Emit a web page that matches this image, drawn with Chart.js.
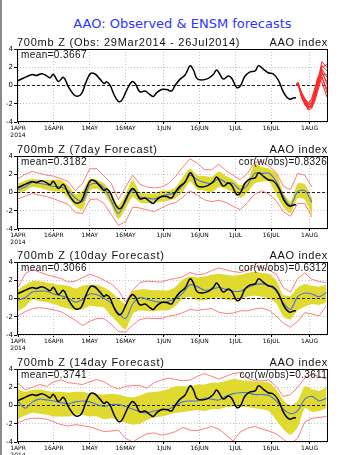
<!DOCTYPE html>
<html><head><meta charset="utf-8">
<script src="https://cdn.jsdelivr.net/npm/chart.js@4.4.1/dist/chart.umd.min.js"></script>
<style>
html,body{margin:0;padding:0;background:#fff;width:343px;height:455px;overflow:hidden;position:relative;}
#edge{position:absolute;left:0;top:0;width:2px;height:455px;background:#8a8a8a;}
.t{position:absolute;white-space:nowrap;font-family:"Liberation Sans",Arial,sans-serif;color:#111;}
canvas{position:absolute;left:0;}
</style></head><body>
<div id="edge"></div>
<script>
// ---------- data ----------
const chartTitle = "AAO: Observed & ENSM forecasts";
const subtitles = ["700mb Z (Obs: 29Mar2014 - 26Jul2014)", "700mb Z (7day Forecast)", "700mb Z (10day Forecast)", "700mb Z (14day Forecast)"];
const rightLabel = "AAO index";
const meanLabels = ["mean=0.3667", "mean=0.3182", "mean=0.3066", "mean=0.3741"];
const corLabels = ["", "cor(w/obs)=0.8326", "cor(w/obs)=0.6312", "cor(w/obs)=0.3611"];

// x ticks: days since 1 Apr 2014
const tickDays = [0, 15, 30, 45, 61, 76, 91, 106, 122];
const tickLabels = [["1APR", "2014"], "16APR", "1MAY", "16MAY", "1JUN", "16JUN", "1JUL", "16JUL", "1AUG"];
const yTicks = [-4, -3, -2, -1, 0, 1, 2, 3, 4];

// observed AAO index
const obsDays = [-0.4, 2.2, 5.7, 7.8, 9.9, 12.0, 13.4, 14.8, 16.9, 19.0, 21.1, 23.2, 24.8, 26.6, 28.5, 30.4, 32.2, 34.3, 36.0, 37.1, 38.5, 40.3, 42.0, 43.4, 45.5, 47.6, 49.0, 51.0, 53.1, 55.2, 56.6, 58.0, 60.1, 62.2, 64.3, 65.7, 67.8, 69.9, 72.0, 73.4, 74.8, 76.8, 79.6, 81.7, 83.1, 84.5, 85.9, 88.0, 89.4, 91.5, 92.9, 95.0, 97.1, 99.2, 100.6, 102.6, 104.7, 106.8, 108.9, 111.0, 112.4, 113.8, 115.2, 116.3];
const obsVals = [0.48, 0.8, 1.19, 1.1, 1.3, 1.05, 0.85, 1.22, 0.44, 0.89, -0.15, -0.96, -1.19, -0.89, 0.4, 1.33, 1.26, 0.7, 0.22, 0.4, 0.04, -1.07, -1.74, -1.63, -0.5, 0.4, 0.22, -0.7, -0.6, -1.0, -1.2, -0.8, -0.44, -0.45, -0.6, 0.0, 0.7, 1.15, 2.15, 1.7, 0.78, 0.6, 0.78, 1.2, 1.7, 1.2, 0.7, 1.04, 0.8, -0.22, -0.1, 1.04, 1.5, 1.6, 2.15, 1.8, 1.4, 1.26, 0.6, -0.7, -1.26, -1.5, -1.37, -1.33];

// ENSM members (panel 1)
const memberDays = [116.3, 117.2, 118.7, 120.2, 121.5, 122.9, 124.2, 125.4, 127.1, 129.3];
const member01 = [0.1, 0.3, -1.0, -1.9, -2.4, -2.2, -1.2, 0.3, 2.6, 2.0];
const member02 = [0.0, 0.2, -0.9, -1.6, -2.1, -1.9, -0.8, 0.6, 2.2, 1.6];
const member03 = [0.1, 0.2, -1.2, -2.1, -2.7, -2.5, -1.5, -0.3, 1.8, 0.9];
const member04 = [0.0, 0.1, -0.8, -1.5, -1.9, -1.6, -0.5, 0.9, 1.4, 0.4];
const member05 = [0.1, 0.3, -1.1, -1.8, -2.3, -2.4, -1.7, -0.6, 0.9, -0.4];
const member06 = [0.0, 0.2, -1.3, -2.0, -2.5, -2.0, -1.0, 0.1, 1.2, 1.2];
const member07 = [0.1, 0.3, -1.0, -1.7, -2.0, -1.4, -0.3, 0.7, 0.4, -1.3];
const member08 = [0.0, 0.2, -0.9, -1.9, -2.6, -2.1, -0.9, 0.4, 2.0, 2.3];
const member09 = [0.1, 0.1, -1.4, -2.2, -2.2, -1.8, -1.3, -0.2, 1.0, -0.8];
const member10 = [0.0, 0.3, -1.1, -1.6, -2.4, -2.3, -1.1, 0.2, 1.6, 0.1];
const members = [member01, member02, member03, member04, member05, member06, member07, member08, member09, member10];

// forecast verification days (every 3 days)
const fcDays = [0, 3, 6, 9, 12, 15, 18, 21, 24, 27, 30, 33, 36, 39, 42, 45, 48, 51, 54, 57, 60, 63, 66, 69, 72, 75, 78, 81, 84, 87, 90, 93, 96, 99, 102, 105, 108, 111, 114, 117, 120, 123, 126, 129];

// 7-day forecast
const p2Mean = [0.3, 0.6, 1.1, 1.0, 0.85, 0.65, 0.6, 0.2, -0.6, -1.0, 0.8, 1.0, 0.5, -0.9, -2.3, -1.0, 0.3, -0.5, -0.6, -0.7, -0.4, -0.2, 0.0, 0.8, 1.9, 1.4, 1.1, 1.0, 1.5, 1.1, 1.0, 0.3, 0.8, 2.1, 2.1, 2.1, 1.2, -0.4, -1.4, 0.1, 0.2, -1.1];
const p2BandHi = [1.0, 1.3, 1.5, 1.4, 1.35, 1.4, 1.35, 0.8, -0.2, 0.2, 1.5, 1.4, 1.0, 0.0, -1.4, -0.2, 1.4, 0.0, -0.1, -0.1, 0.2, 0.2, 0.6, 1.7, 2.6, 1.9, 1.8, 1.7, 2.3, 1.8, 1.4, 0.8, 1.3, 3.1, 2.8, 2.6, 2.1, 0.0, -1.0, 1.0, 0.9, -0.6];
const p2BandLo = [-0.1, 0.2, 0.6, 0.5, 0.3, 0.1, 0.05, -0.6, -1.5, -1.9, 0.2, 0.4, -0.1, -1.4, -2.9, -1.8, -0.5, -1.1, -1.2, -1.1, -1.0, -0.9, -0.6, 0.1, 1.2, 0.3, 0.2, 0.0, 0.6, 0.4, 0.0, -0.6, 0.0, 1.0, 1.2, 1.2, -0.2, -1.6, -2.3, -0.6, -0.8, -2.5];
const p2RedHi = [1.5, 2.0, 2.3, 2.1, 1.9, 1.8, 1.5, 1.2, 0.2, 1.0, 2.6, 2.6, 1.8, 1.0, -0.8, 0.6, 1.9, 0.9, 0.6, 0.5, 0.6, 1.0, 1.8, 2.8, 3.7, 3.2, 2.5, 2.5, 3.1, 2.4, 1.9, 1.4, 2.1, 3.3, 3.4, 2.9, 2.2, 0.7, 0.3, 2.1, 1.9, 0.6];
const p2RedLo = [-0.7, -0.4, -0.1, -0.3, -0.45, -0.7, -1.0, -1.3, -2.2, -2.3, -0.8, -0.7, -1.2, -2.4, -3.6, -3.2, -1.6, -1.7, -1.9, -2.1, -1.7, -1.3, -1.1, -0.5, 0.2, -0.3, -0.8, -1.0, -0.85, -1.1, -1.5, -1.9, -1.1, -0.2, 0.2, -0.2, -0.9, -2.1, -2.6, -1.2, -1.2, -2.7];

// 10-day forecast
const p3Mean = [-0.2, 0.1, 0.7, 0.8, 0.8, 0.5, 0.3, 0.05, -0.4, -0.1, 0.5, 0.4, 0.0, -0.5, -1.6, -2.2, -0.6, 0.1, -0.1, -0.3, -0.4, -0.3, 0.0, 0.6, 1.5, 1.3, 0.9, 1.0, 1.2, 1.0, 0.8, 0.8, 1.2, 1.5, 1.6, 1.4, 0.8, -0.5, -1.2, 0.2, 0.6, 0.5, 0.2, 0.65];
const p3BandHi = [0.9, 1.5, 1.9, 1.9, 1.75, 1.6, 1.5, 1.4, 1.1, 1.4, 1.5, 1.5, 1.2, 0.7, 0.0, -0.6, 0.8, 1.0, 1.0, 0.9, 0.9, 0.9, 1.3, 2.1, 2.4, 2.3, 2.4, 2.6, 2.7, 2.6, 2.5, 2.6, 2.8, 2.9, 2.8, 2.7, 2.0, 0.4, 0.3, 1.2, 1.6, 1.4, 1.3, 1.5];
const p3BandLo = [-1.35, -0.9, -0.1, -0.3, -0.4, -0.6, -0.9, -1.1, -1.3, -1.2, -0.8, -0.9, -1.0, -1.9, -2.7, -3.4, -1.7, -1.3, -1.4, -1.4, -1.3, -1.3, -0.8, 0.0, 0.2, -0.2, -0.2, 0.0, 0.1, -0.1, -0.2, 0.0, 0.2, 0.3, 0.2, 0.0, -0.5, -2.0, -2.3, -1.3, -0.9, -0.6, -0.7, -0.4];
const p3RedHi = [1.2, 2.7, 3.2, 2.9, 2.6, 2.4, 2.2, 1.8, 1.9, 2.3, 2.65, 2.4, 2.0, 1.6, 0.9, -0.4, 0.9, 1.75, 1.9, 1.85, 1.8, 2.05, 2.2, 2.4, 2.85, 2.6, 2.7, 3.05, 3.35, 3.15, 2.95, 2.85, 3.1, 3.5, 3.4, 3.1, 2.7, 1.2, 0.7, 2.2, 2.8, 2.1, 1.85, 1.75];
const p3RedLo = [-1.9, -1.45, -1.1, -1.0, -1.1, -1.25, -1.45, -1.9, -2.4, -2.95, -2.5, -2.2, -2.2, -2.8, -3.6, -3.7, -2.9, -2.3, -2.15, -2.2, -2.2, -1.95, -1.8, -1.55, -1.2, -1.3, -1.2, -1.1, -1.5, -1.65, -1.6, -1.35, -1.35, -1.15, -1.05, -1.3, -1.9, -2.7, -3.15, -2.5, -1.55, -1.7, -1.9, -0.8];

// 14-day forecast
const p4Mean = [0.45, -0.3, 0.4, 0.7, 0.6, 0.5, 0.3, 0.2, 0.4, 0.5, 0.4, 0.1, -0.1, 0.1, 0.1, -0.1, -0.4, -0.7, -0.8, -0.6, -0.5, -0.4, 0.0, 0.4, 0.5, 0.5, 0.8, 0.7, 0.6, 1.0, 1.3, 1.4, 1.4, 1.2, 1.2, 1.1, 0.5, -0.4, -0.9, -0.6, 0.7, 1.0, 0.5, 0.8];
const p4BandHi = [1.75, 1.5, 1.7, 1.75, 1.6, 1.5, 1.5, 1.4, 1.5, 1.5, 1.3, 1.2, 1.2, 1.3, 1.2, 1.0, 0.9, 1.1, 1.4, 1.5, 1.6, 1.8, 2.1, 2.1, 2.1, 2.3, 2.3, 2.5, 2.5, 2.7, 2.9, 2.8, 2.7, 2.6, 2.6, 2.5, 1.8, 0.6, 0.0, 0.5, 2.1, 1.8, 1.6, 2.0];
const p4BandLo = [-1.5, -1.1, -0.8, -0.9, -1.0, -1.2, -1.2, -1.2, -1.0, -1.0, -1.2, -1.2, -1.5, -1.4, -1.6, -1.9, -2.1, -2.0, -1.6, -1.3, -1.2, -1.0, -0.8, -0.7, -0.6, -0.5, -0.6, -0.4, -0.4, -0.2, -0.1, -0.1, -0.2, -0.3, -0.4, -0.6, -1.6, -2.6, -3.2, -2.4, -0.3, -0.7, -0.6, -0.3];
const p4RedHi = [2.5, 1.7, 2.0, 2.3, 2.1, 2.6, 2.8, 2.5, 2.4, 2.3, 2.6, 2.84, 2.6, 2.1, 1.8, 2.1, 2.2, 2.2, 1.9, 2.5, 2.8, 3.0, 2.85, 2.7, 2.8, 3.2, 3.5, 3.2, 2.9, 3.2, 3.5, 3.6, 3.0, 2.7, 2.7, 2.8, 2.1, 1.0, 1.2, 2.0, 3.0, 3.4, 3.2, 2.9];
const p4RedLo = [-1.9, -1.55, -1.4, -1.4, -1.5, -1.8, -2.1, -2.25, -2.1, -2.2, -2.35, -2.6, -2.85, -2.8, -2.7, -3.6, -4.0, -3.5, -3.1, -3.0, -3.25, -3.1, -2.85, -2.4, -2.7, -2.75, -2.55, -2.3, -2.6, -3.2, -3.9, -2.9, -2.5, -2.3, -2.55, -2.8, -3.1, -3.7, -4.2, -3.6, -1.8, -1.4, -1.3, -1.2];

// ---------- layout / style ----------
const panelTops = [49, 156, 262, 369];
const PLOT_H = 73, PLOT_L = 17, PLOT_R = 328, PAD_T = 6, XAX_H = 22, PAD_R = 4;
const X_MIN = -0.42, X_MAX = 129.7;
const FONT = '"DejaVu Sans", sans-serif';
const YELLOW = '#e0da30', PINK = '#ff7a7a', BLUE = '#4d6fdc', RED = '#ff2525', GRID = '#c4c4c4';

function addText(txt, css) {
  const d = document.createElement('div');
  d.className = 't';
  d.textContent = txt;
  Object.assign(d.style, css);
  document.body.appendChild(d);
  return d;
}
addText(chartTitle, {left: '0px', width: '365px', textAlign: 'center', top: '15px', fontSize: '13px', lineHeight: '17px', color: '#2a36ff', fontFamily: FONT});

const pts = (days, vals) => vals.map((v, i) => ({x: days[i], y: v}));

const framePlugin = {
  id: 'frame',
  afterDatasetsDraw(c) {
    const a = c.chartArea, x = c.ctx;
    x.save(); x.strokeStyle = '#000'; x.lineWidth = 1;
    x.strokeRect(Math.round(a.left) + 0.5, Math.round(a.top) + 0.5, Math.round(a.right - a.left) - 1, Math.round(a.bottom - a.top) - 1);
    x.restore();
  }
};

function lineDS(data, color, width, tension, extra) {
  return Object.assign({data, borderColor: color, borderWidth: width, pointRadius: 0, fill: false, tension}, extra || {});
}

function makePanel(i, datasets) {
  const top = panelTops[i];
  const cv = document.createElement('canvas');
  const W = PLOT_R + PAD_R, H = PAD_T + PLOT_H + XAX_H;
  cv.width = W; cv.height = H;
  cv.style.width = W + 'px'; cv.style.height = H + 'px';
  cv.style.top = (top - PAD_T) + 'px';
  document.body.appendChild(cv);
  const zero = lineDS([{x: X_MIN, y: 0}, {x: X_MAX, y: 0}], '#222', 1, 0, {borderDash: [3, 2]});
  datasets.splice(datasets.length - (datasets.bandCount || 0), 0, zero);
  new Chart(cv, {
    type: 'line',
    data: {datasets},
    options: {
      animation: false, responsive: false, maintainAspectRatio: false, devicePixelRatio: 1,
      layout: {padding: {top: PAD_T, right: PAD_R, left: 0, bottom: 0}},
      plugins: {legend: {display: false}, tooltip: {enabled: false}, filler: {drawTime: 'beforeDatasetsDraw'}},
      scales: {
        x: {
          type: 'linear', min: X_MIN, max: X_MAX,
          afterBuildTicks(s) { s.ticks = tickDays.map(v => ({value: v})); },
          afterFit(s) { s.height = XAX_H; },
          ticks: {autoSkip: false, maxRotation: 0, minRotation: 0, padding: 1, color: '#000',
            font: {family: FONT, size: 6, lineHeight: 1.2},
            callback(v) { const k = tickDays.indexOf(v); return k >= 0 ? tickLabels[k] : ''; }},
          grid: {color: GRID, lineWidth: 1, drawTicks: true, tickLength: 2, tickColor: '#000'},
          border: {display: false, dash: [1, 2]}
        },
        y: {
          min: -4, max: 4,
          afterBuildTicks(s) { s.ticks = yTicks.map(v => ({value: v})); },
          afterFit(s) { s.width = PLOT_L; },
          ticks: {padding: 1, color: '#000', font: {family: FONT, size: 7}, callback: v => String(v)},
          grid: {color: GRID, lineWidth: 1, drawTicks: true, tickLength: 3, tickColor: '#000'},
          border: {display: false, dash: [1, 2]}
        }
      }
    },
    plugins: [framePlugin]
  });
  // texts
  addText(subtitles[i], {left: PLOT_L + 'px', top: (top - 13) + 'px', fontSize: '11px', lineHeight: '13px', letterSpacing: '0.75px'});
  addText(rightLabel, {right: (343 - PLOT_R) + 'px', top: (top - 13) + 'px', fontSize: '11px', lineHeight: '13px', letterSpacing: '0.65px'});
  addText(meanLabels[i], {left: (PLOT_L + 4) + 'px', top: (top) + 'px', fontSize: '10px', lineHeight: '11px', letterSpacing: '0.4px'});
  if (corLabels[i]) addText(corLabels[i], {right: (343 - PLOT_R + 1) + 'px', top: (top) + 'px', fontSize: '10px', lineHeight: '11px', letterSpacing: '0.3px'});
}

const obsPts = pts(obsDays, obsVals);

// panel 1: observed + ensemble members
const p1 = [lineDS(obsPts, '#000', 1.5, 0.4)];
members.forEach(m => p1.push(lineDS(pts(memberDays, m), RED, 1, 0)));
makePanel(0, p1);

function fcPanel(i, mean, bhi, blo, rhi, rlo) {
  const ds = [
    lineDS(obsPts, '#000', 1.5, 0.4),
    lineDS(pts(fcDays, mean), BLUE, 1.1, 0.3),
    lineDS(pts(fcDays, rhi), PINK, 1, 0),
    lineDS(pts(fcDays, rlo), PINK, 1, 0),
    lineDS(pts(fcDays, bhi), 'rgba(0,0,0,0)', 0, 0.2, {fill: '+1', backgroundColor: YELLOW}),
    lineDS(pts(fcDays, blo), 'rgba(0,0,0,0)', 0, 0.2)
  ];
  ds.bandCount = 2;
  makePanel(i, ds);
}
fcPanel(1, p2Mean, p2BandHi, p2BandLo, p2RedHi, p2RedLo);
fcPanel(2, p3Mean, p3BandHi, p3BandLo, p3RedHi, p3RedLo);
fcPanel(3, p4Mean, p4BandHi, p4BandLo, p4RedHi, p4RedLo);
</script>
</body></html>
